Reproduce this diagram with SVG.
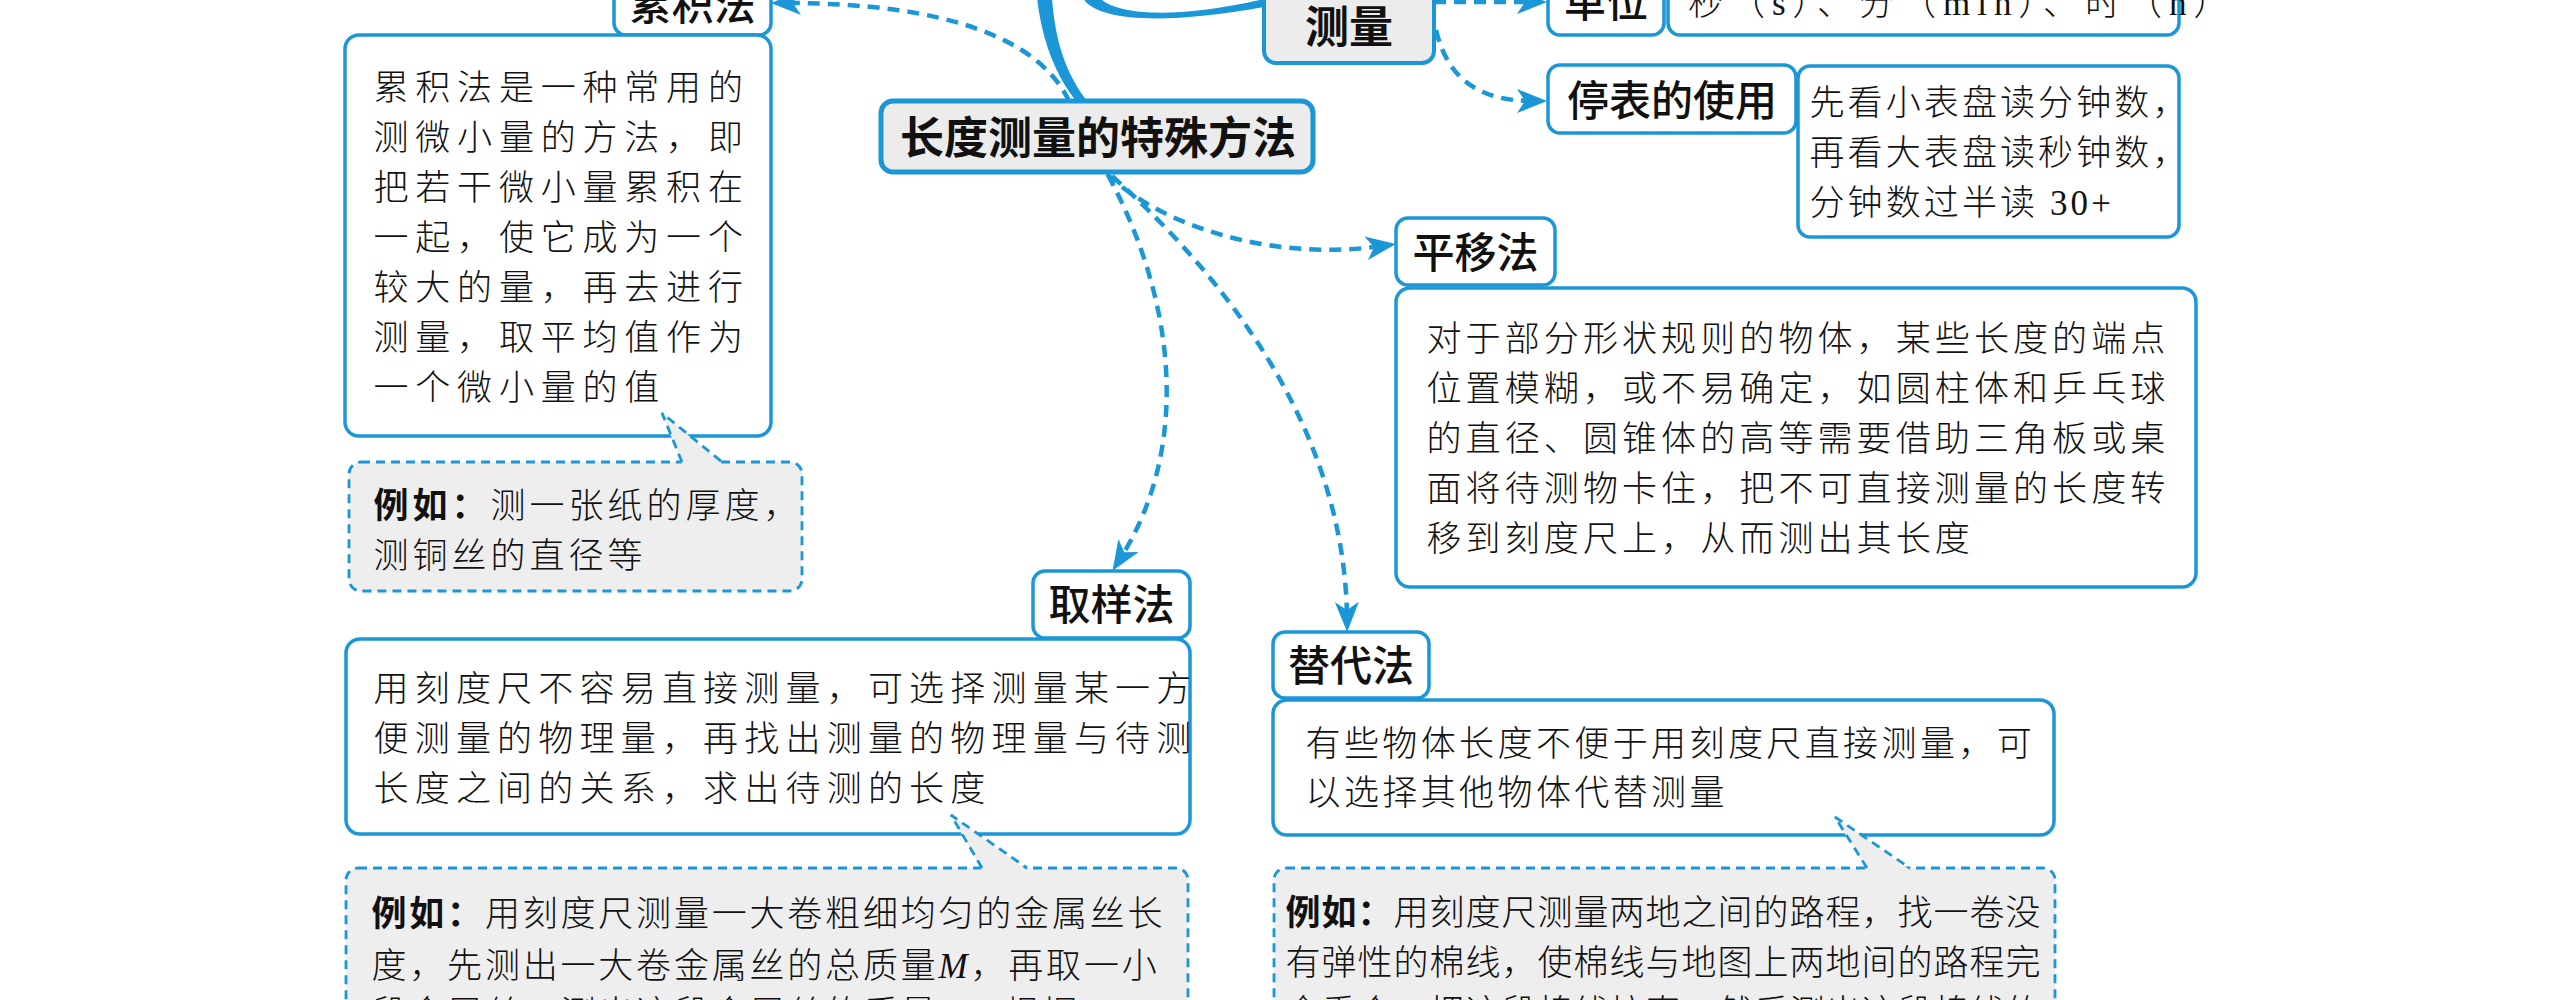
<svg xmlns="http://www.w3.org/2000/svg" width="2552" height="1000" viewBox="0 0 2552 1000">
<style>
.box{fill:#fff;stroke:#1b96d6;stroke-width:3.5}
.gbox{fill:#ececec;stroke:#1b96d6;stroke-width:5}
.ex{fill:#eeeeee;stroke:#1b96d6;stroke-width:2.8;stroke-dasharray:9 6}
.exfill{fill:#eeeeee}
.exline{fill:none;stroke:#1b96d6;stroke-width:2.8;stroke-dasharray:9 6}
.conn{fill:none;stroke:#1b96d6;stroke-width:4.5;stroke-dasharray:12 8;marker-end:url(#arr)}
.thick{fill:#1b96d6}
.lbl{font-family:"Noto Sans CJK SC","Noto Sans",sans-serif;font-size:42px;font-weight:500;fill:#111;text-anchor:middle}
.hd{font-family:"Noto Sans CJK SC","Noto Sans",sans-serif;font-size:44px;font-weight:700;fill:#111;text-anchor:middle}
.body{font-family:"Liberation Serif","Noto Sans CJK SC",serif;font-size:35px;font-weight:300;fill:#111}
.b{font-weight:700}
.it{font-style:italic}
</style>
<defs>
<marker id="arr" markerUnits="userSpaceOnUse" markerWidth="30" markerHeight="24" viewBox="0 0 30 24" refX="16" refY="12" orient="auto">
<path d="M0,0 L30,12 L0,24 L8,12 Z" fill="#1b96d6"/>
</marker>
</defs>
<rect width="2552" height="1000" fill="#fff"/>

<g id="connectors">
<path class="thick" d="M1037,-2 C1042,40 1055,75 1077,102 L1087,101 C1065,72 1055,40 1052,-2 Z"/>
<path class="thick" d="M1083,-2 C1095,20 1160,26 1264,7 L1264,-1 C1165,22 1112,12 1100,-2 Z"/>
<path class="conn" d="M1069,101 C1040,40 950,3 785,3"/>
<path class="conn" d="M1434,2 L1533,2"/>
<path class="conn" d="M1436,30 C1448,80 1480,101 1533,101"/>
<path class="conn" d="M1107,174 C1160,225 1270,262 1382,246"/>
<path class="conn" d="M1108,175 C1175,300 1192,445 1120,559"/>
<path class="conn" d="M1112,176 C1250,300 1345,450 1347,618"/>
</g>

<g id="node-center">
<rect class="gbox" x="881" y="101" width="432" height="71" rx="12"/>
<text class="hd" x="1098" y="154">长度测量的特殊方法</text>
</g>

<g id="node-celiang">
<rect class="gbox" x="1264" y="-10" width="170" height="73" rx="12" style="stroke-width:4"/>
<text class="hd" x="1349" y="43">测量</text>
</g>

<g id="node-danwei">
<rect class="box" x="1548" y="-33" width="116" height="68" rx="12"/>
<text class="lbl" x="1606" y="17">单位</text>
</g>
<g id="node-danwei-value">
<rect class="box" x="1668" y="-33" width="511" height="68" rx="12"/>
<text class="body" style="letter-spacing:7px" x="1688" y="15">秒（s）、分（min）、时（h）</text>
</g>

<g id="node-tingbiao">
<rect class="box" x="1548" y="65" width="248" height="68" rx="12"/>
<text class="lbl" x="1672" y="116">停表的使用</text>
</g>
<g id="node-tingbiao-value">
<rect class="box" x="1798" y="66" width="381" height="171" rx="12"/>
<text class="body" style="letter-spacing:3.1px" x="1809.5" y="115">先看小表盘读分钟数，</text>
<text class="body" style="letter-spacing:3.1px" x="1809.5" y="165">再看大表盘读秒钟数，</text>
<text class="body" style="letter-spacing:3.1px" x="1809.5" y="215">分钟数过半读 30+</text>
</g>

<g id="node-leiji">
<rect class="box" x="614" y="-33" width="157" height="68" rx="12"/>
<text class="lbl" x="692.5" y="20">累积法</text>
</g>
<g id="node-leiji-desc">
<rect class="box" x="345" y="35" width="426" height="401" rx="14"/>
<g class="body" style="letter-spacing:6.8px">
<text x="373.5" y="100">累积法是一种常用的</text>
<text x="373.5" y="150">测微小量的方法，即</text>
<text x="373.5" y="200">把若干微小量累积在</text>
<text x="373.5" y="250">一起，使它成为一个</text>
<text x="373.5" y="300">较大的量，再去进行</text>
<text x="373.5" y="350">测量，取平均值作为</text>
<text x="373.5" y="400">一个微小量的值</text>
</g>
</g>
<g id="node-leiji-example">
<rect class="ex" x="349" y="462" width="453" height="129" rx="12"/>
<polygon class="exfill" points="662,413 682,464 722,464"/>
<polyline class="exline" points="682,462 662,413 722,462"/>
<g class="body" style="letter-spacing:4px">
<text x="373.5" y="518"><tspan class="b">例如：</tspan>测一张纸的厚度，</text>
<text x="373.5" y="568">测铜丝的直径等</text>
</g>
</g>

<g id="node-pingyi">
<rect class="box" x="1396" y="218" width="159" height="67" rx="12"/>
<text class="lbl" x="1475.5" y="268">平移法</text>
</g>
<g id="node-pingyi-desc">
<rect class="box" x="1396" y="288" width="800" height="299" rx="14"/>
<g class="body" style="letter-spacing:4.1px">
<text x="1426.5" y="351">对于部分形状规则的物体，某些长度的端点</text>
<text x="1426.5" y="401">位置模糊，或不易确定，如圆柱体和乒乓球</text>
<text x="1426.5" y="451">的直径、圆锥体的高等需要借助三角板或桌</text>
<text x="1426.5" y="501">面将待测物卡住，把不可直接测量的长度转</text>
<text x="1426.5" y="551">移到刻度尺上，从而测出其长度</text>
</g>
</g>

<g id="node-quyang">
<rect class="box" x="1033" y="571" width="157" height="67" rx="12"/>
<text class="lbl" x="1111.5" y="620">取样法</text>
</g>
<g id="node-quyang-desc">
<rect class="box" x="346" y="639" width="844" height="195" rx="14"/>
<g class="body" style="letter-spacing:6.2px">
<text x="373.5" y="701">用刻度尺不容易直接测量，可选择测量某一方</text>
<text x="373.5" y="751">便测量的物理量，再找出测量的物理量与待测</text>
<text x="373.5" y="801">长度之间的关系，求出待测的长度</text>
</g>
</g>
<g id="node-quyang-example">
<rect class="ex" x="346" y="868" width="842" height="220" rx="12"/>
<polygon class="exfill" points="951,815 982,870 1027,870"/>
<polyline class="exline" points="982,868 951,815 1027,868"/>
<g class="body" style="letter-spacing:2.8px">
<text x="371.5" y="926"><tspan class="b">例如：</tspan>用刻度尺测量一大卷粗细均匀的金属丝长</text>
<text x="371.5" y="978">度，先测出一大卷金属丝的总质量<tspan class="it">M</tspan>，再取一小</text>
<text x="371.5" y="1026">段金属丝，测出这段金属丝的质量<tspan class="it">m</tspan>，根据</text>
</g>
</g>

<g id="node-tidai">
<rect class="box" x="1273" y="632" width="156" height="66" rx="12"/>
<text class="lbl" x="1351" y="681">替代法</text>
</g>
<g id="node-tidai-desc">
<rect class="box" x="1273" y="700" width="781" height="135" rx="14"/>
<g class="body" style="letter-spacing:3.4px">
<text x="1305.5" y="756">有些物体长度不便于用刻度尺直接测量，可</text>
<text x="1305.5" y="805">以选择其他物体代替测量</text>
</g>
</g>
<g id="node-tidai-example">
<rect class="ex" x="1274" y="868" width="781" height="220" rx="12"/>
<polygon class="exfill" points="1835,817 1867,870 1910,870"/>
<polyline class="exline" points="1867,868 1835,817 1910,868"/>
<g class="body" style="letter-spacing:1px">
<text x="1285.5" y="925"><tspan class="b">例如：</tspan>用刻度尺测量两地之间的路程，找一卷没</text>
<text x="1285.5" y="975">有弹性的棉线，使棉线与地图上两地间的路程完</text>
<text x="1285.5" y="1025">全重合，把这段棉线拉直，然后测出这段棉线的</text>
</g>
</g>
</svg>
